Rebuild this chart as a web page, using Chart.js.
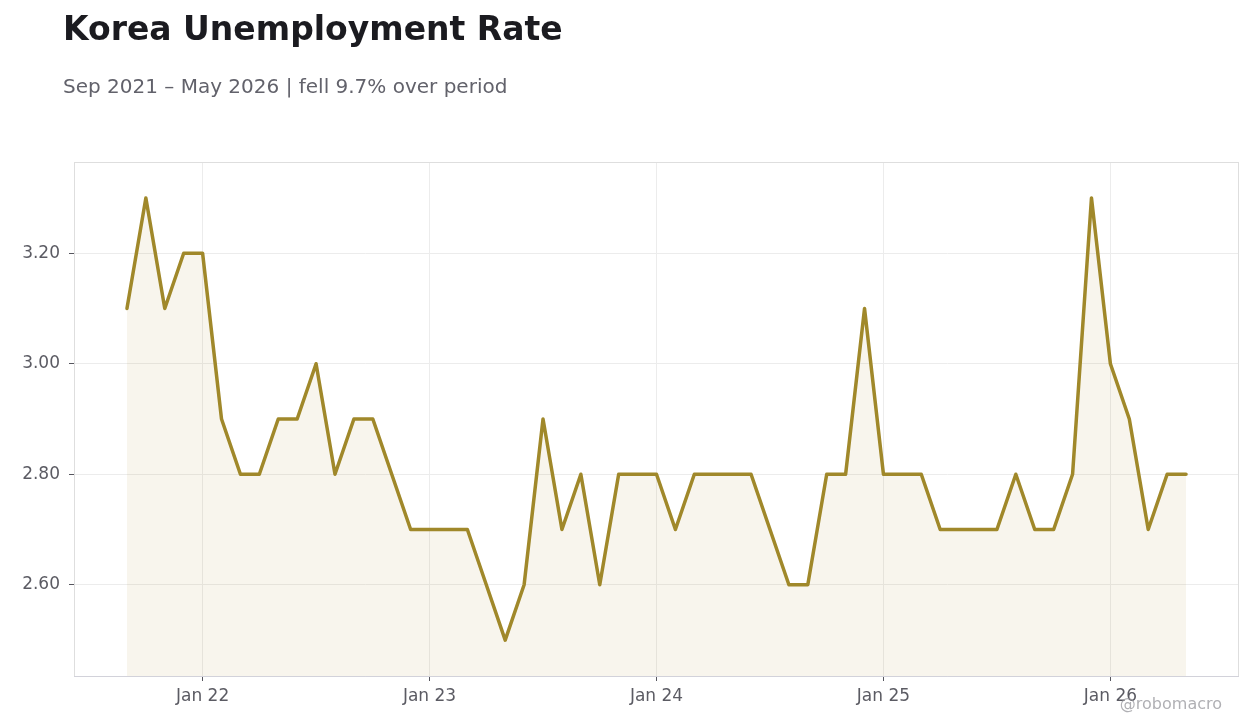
<!DOCTYPE html>
<html>
<head>
<meta charset="utf-8">
<script src="https://cdn.jsdelivr.net/npm/chart.js@4.4.1/dist/chart.umd.min.js"></script>
<style>
  html, body { margin: 0; padding: 0; background: #ffffff; }
  body { width: 1260px; height: 728px; position: relative; overflow: hidden; font-family: "DejaVu Sans", sans-serif; }
  #title { position: absolute; left: 63px; top: 9px; font-size: 33px; line-height: normal; font-weight: bold; color: #1b1b20; white-space: nowrap; }
  #subtitle { position: absolute; left: 63px; top: 74px; font-size: 20px; line-height: normal; color: #62626b; white-space: nowrap; }
  #wm { position: absolute; right: 38px; top: 694px; font-size: 16px; color: rgba(150,150,155,0.75); white-space: nowrap; }
  #wrap { position: absolute; left: 0; top: 0; width: 1260px; height: 728px; }
</style>
</head>
<body>
<div id="wrap"><canvas id="c" width="1260" height="728"></canvas></div>
<div id="title">Korea Unemployment Rate</div>
<div id="subtitle">Sep 2021 – May 2026 | fell 9.7% over period</div>
<div id="wm">@robomacro</div>
<script>
const months = [
  "2021-09","2021-10","2021-11","2021-12",
  "2022-01","2022-02","2022-03","2022-04","2022-05","2022-06","2022-07","2022-08","2022-09","2022-10","2022-11","2022-12",
  "2023-01","2023-02","2023-03","2023-04","2023-05","2023-06","2023-07","2023-08","2023-09","2023-10","2023-11","2023-12",
  "2024-01","2024-02","2024-03","2024-04","2024-05","2024-06","2024-07","2024-08","2024-09","2024-10","2024-11","2024-12",
  "2025-01","2025-02","2025-03","2025-04","2025-05","2025-06","2025-07","2025-08","2025-09","2025-10","2025-11","2025-12",
  "2026-01","2026-02","2026-03","2026-04","2026-05"
];
const unemploymentRate = [
  3.1, 3.3, 3.1, 3.2,
  3.2, 2.9, 2.8, 2.8, 2.9, 2.9, 3.0, 2.8, 2.9, 2.9, 2.8, 2.7,
  2.7, 2.7, 2.7, 2.6, 2.5, 2.6, 2.9, 2.7, 2.8, 2.6, 2.8, 2.8,
  2.8, 2.7, 2.8, 2.8, 2.8, 2.8, 2.7, 2.6, 2.6, 2.8, 2.8, 3.1,
  2.8, 2.8, 2.8, 2.7, 2.7, 2.7, 2.7, 2.8, 2.7, 2.7, 2.8, 3.3,
  3.0, 2.9, 2.7, 2.8, 2.8
];
const xTickMonths = ["2022-01","2023-01","2024-01","2025-01","2026-01"];
const xTickLabels = ["Jan 22","Jan 23","Jan 24","Jan 25","Jan 26"];
const yTicks = [2.6, 2.8, 3.0, 3.2];

const points = unemploymentRate.map((v, i) => ({ x: i, y: v }));
const xTickIdx = xTickMonths.map(m => months.indexOf(m));
const span = months.length - 1;

const frame = {
  id: 'frame',
  afterDraw(chart) {
    const a = chart.chartArea, ctx = chart.ctx;
    ctx.save();
    ctx.strokeStyle = '#dedede';
    ctx.lineWidth = 1;
    ctx.strokeRect(a.left + 0.5, a.top + 0.5, a.right - a.left - 1, a.bottom - a.top);
    ctx.strokeStyle = '#d2d2da';
    ctx.beginPath();
    ctx.moveTo(a.left, a.bottom + 0.5);
    ctx.lineTo(a.right, a.bottom + 0.5);
    ctx.stroke();
    ctx.restore();
  }
};

new Chart(document.getElementById('c'), {
  type: 'line',
  data: {
    datasets: [{
      data: points,
      borderColor: '#a0882a',
      borderWidth: 3.5,
      borderJoinStyle: 'round',
      borderCapStyle: 'round',
      backgroundColor: 'rgba(175,145,60,0.09)',
      fill: 'start',
      pointRadius: 0,
      tension: 0
    }]
  },
  options: {
    responsive: false,
    animation: false,
    devicePixelRatio: 1,
    layout: { padding: { top: 162, right: 21, left: 0, bottom: 0 } },
    plugins: { legend: { display: false }, tooltip: { enabled: false } },
    scales: {
      x: {
        type: 'linear',
        min: -span * 0.05,
        max: span * 1.05,
        afterBuildTicks(s) { s.ticks = xTickIdx.map(v => ({ value: v })); },
        afterFit(s) { s.height = 52; },
        ticks: {
          callback(v) { const k = xTickIdx.indexOf(v); return k >= 0 ? xTickLabels[k] : ''; },
          font: { family: 'DejaVu Sans', size: 17 },
          color: '#5b5b63',
          padding: 5,
          maxRotation: 0
        },
        grid: { color: '#ececec', tickColor: '#55555d', tickLength: 5, tickWidth: 1 },
        border: { display: false }
      },
      y: {
        min: 2.435,
        max: 3.365,
        afterBuildTicks(s) { s.ticks = yTicks.map(v => ({ value: v })); },
        afterFit(s) { s.width = 74; },
        ticks: {
          callback(v) { return v.toFixed(2); },
          font: { family: 'DejaVu Sans', size: 17 },
          color: '#5b5b63',
          padding: 9
        },
        grid: { color: '#ececec', tickColor: '#55555d', tickLength: 5, tickWidth: 1 },
        border: { display: false }
      }
    }
  },
  plugins: [frame]
});
</script>
</body>
</html>
